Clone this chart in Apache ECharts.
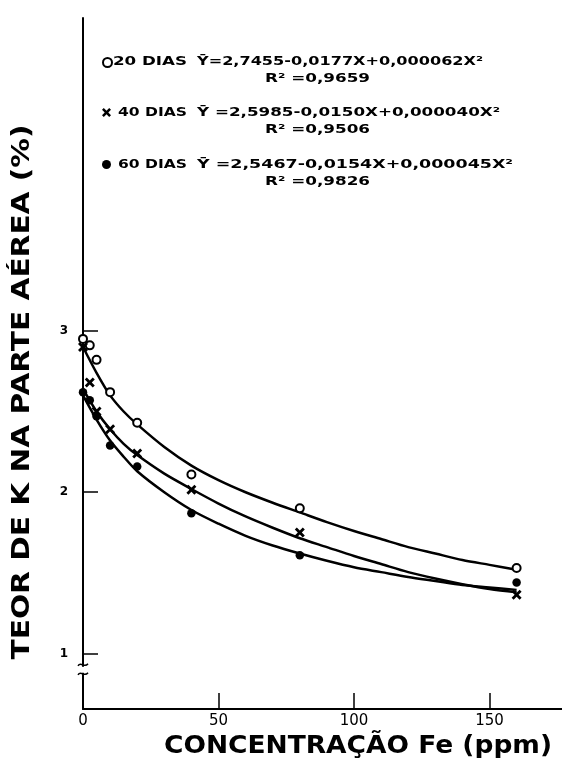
<!DOCTYPE html>
<html>
<head>
<meta charset="utf-8">
<script src="https://cdn.jsdelivr.net/npm/echarts@6/dist/echarts.min.js"></script>
<style>
html, body { margin: 0; padding: 0; background: #fff; }
#chart { width: 562px; height: 761px; }
</style>
</head>
<body>
<div id="chart"></div>
<script>
// measured points (Fe concentration, ppm) and K content (%)
const conc = [0, 2.5, 5, 10, 20, 40, 80, 160];
const k20 = [2.95, 2.91, 2.82, 2.62, 2.43, 2.11, 1.90, 1.53];
const k40 = [2.90, 2.68, 2.50, 2.39, 2.24, 2.015, 1.75, 1.365];
const k60 = [2.62, 2.57, 2.47, 2.29, 2.16, 1.87, 1.61, 1.44];

// fitted curves as drawn in the figure
const curveX = [0, 5, 10, 15, 20, 30, 40, 50, 60, 70, 80, 90, 100, 110, 120, 130, 140, 150, 160];
const fit20 = [2.90, 2.74, 2.60, 2.50, 2.42, 2.28, 2.165, 2.075, 2.00, 1.935, 1.875, 1.815, 1.76, 1.71, 1.66, 1.62, 1.58, 1.55, 1.52];
const fit40 = [2.64, 2.50, 2.39, 2.30, 2.23, 2.115, 2.02, 1.93, 1.85, 1.78, 1.715, 1.66, 1.605, 1.555, 1.505, 1.465, 1.43, 1.40, 1.38];
const fit60 = [2.60, 2.45, 2.32, 2.22, 2.13, 2.00, 1.89, 1.805, 1.73, 1.67, 1.62, 1.575, 1.535, 1.505, 1.475, 1.45, 1.425, 1.41, 1.395];

const seriesNames = ['20 DIAS', '40 DIAS', '60 DIAS'];
const equations = [
	'Ȳ=2,7455-0,0177X+0,000062X²',
	'Ȳ =2,5985-0,0150X+0,000040X²',
	'Ȳ =2,5467-0,0154X+0,000045X²'
];
const r2Labels = ['R² =0,9659', 'R² =0,9506', 'R² =0,9826'];
const xTickValues = [0, 50, 100, 150];
const yTickValues = [1, 2, 3];
const xTitle = 'CONCENTRAÇÃO Fe (ppm)';
const yTitle = 'TEOR DE K NA PARTE AÉREA (%)';

const FONT = '"DejaVu Sans", sans-serif';
const crossPath = 'path://M0,2L2,0L5,3L8,0L10,2L7,5L10,8L8,10L5,7L2,10L0,8L3,5Z';

const chart = echarts.init(document.getElementById('chart'));

const pairs = (xs, ys) => xs.map((x, i) => [x, ys[i]]);

const ctx = document.createElement('canvas').getContext('2d');
function fitText(text, x, y, width, size, opts = {}) {
	const weight = opts.weight || 'bold';
	ctx.font = weight + ' ' + size + 'px ' + FONT;
	const w = ctx.measureText(text).width;
	const el = {
		type: 'text',
		x: x,
		y: y,
		silent: true,
		scaleX: width / w,
		style: {
			text: text,
			fontSize: size,
			fontWeight: weight,
			fontFamily: FONT,
			fill: '#000',
			textAlign: opts.align || 'left',
			textVerticalAlign: 'middle'
		}
	};
	if (opts.rotate) el.rotation = opts.rotate;
	return el;
}

function curveSeries(data) {
	return {
		type: 'line',
		data: data,
		smooth: 0.3,
		showSymbol: false,
		silent: true,
		lineStyle: { color: '#000', width: 2.5 },
		z: 2
	};
}

function legendFor(name, top) {
	return {
		data: [name],
		left: 102,
		top: top,
		padding: 0,
		itemWidth: 9,
		itemHeight: 9,
		selectedMode: false,
		formatter: () => '',
		textStyle: { fontSize: 8 }
	};
}

chart.setOption({
	animation: false,
	backgroundColor: '#fff',
	grid: { left: 83, right: 0, top: 18, bottom: 52 },
	legend: [
		legendFor(seriesNames[0], 57),
		legendFor(seriesNames[1], 108),
		legendFor(seriesNames[2], 160)
	],
	xAxis: {
		type: 'value',
		min: 0,
		max: 176.75,
		splitLine: { show: false },
		axisLine: { lineStyle: { color: '#000', width: 2 } },
		axisTick: { inside: true, length: 16, customValues: xTickValues, lineStyle: { color: '#000', width: 1.5 } },
		axisLabel: { customValues: xTickValues, color: '#000', fontSize: 15, fontFamily: FONT, margin: 5 }
	},
	yAxis: {
		type: 'value',
		min: 0.657,
		max: 4.938,
		splitLine: { show: false },
		axisLine: { lineStyle: { color: '#000', width: 2 } },
		axisTick: { inside: true, length: 15, customValues: yTickValues, lineStyle: { color: '#000', width: 1.5 } },
		axisLabel: { customValues: yTickValues, color: '#000', fontSize: 12, fontWeight: 'bold', fontFamily: FONT, margin: 15 }
	},
	series: [
		curveSeries(pairs(curveX, fit20)),
		curveSeries(pairs(curveX, fit40)),
		curveSeries(pairs(curveX, fit60)),
		{
			name: seriesNames[0],
			type: 'scatter',
			data: pairs(conc, k20),
			symbol: 'emptyCircle',
			symbolSize: 8,
			itemStyle: { color: '#000', borderColor: '#000', borderWidth: 1.6, opacity: 1 },
			z: 3
		},
		{
			name: seriesNames[1],
			type: 'scatter',
			data: pairs(conc, k40),
			symbol: crossPath,
			symbolSize: 10,
			itemStyle: { color: '#000', opacity: 1 },
			z: 3
		},
		{
			name: seriesNames[2],
			type: 'scatter',
			data: pairs(conc, k60),
			symbol: 'circle',
			symbolSize: 8.5,
			itemStyle: { color: '#000', opacity: 1 },
			z: 3
		}
	]
});

// texts of the key, axis titles and the axis break mark
const rows = [62, 113, 165];
const r2Rows = [79, 130, 182];
const nameStarts = [113, 118, 118];
const eqEnds = [483, 500, 513];
const graphics = [];
rows.forEach((y, i) => {
	graphics.push(fitText(seriesNames[i], nameStarts[i], y, 187 - nameStarts[i], 12));
	graphics.push(fitText(equations[i], 197, y, eqEnds[i] - 197, 12));
	graphics.push(fitText(r2Labels[i], 265, r2Rows[i], 105, 12));
});
graphics.push(fitText(xTitle, 164, 746, 388, 25));
graphics.push(fitText(yTitle, 22, 392, 535, 25, { align: 'center', rotate: Math.PI / 2 }));

const ax = chart.convertToPixel({ xAxisIndex: 0 }, 0);
const by = chart.convertToPixel({ yAxisIndex: 0 }, 0.9);
graphics.push({
	type: 'rect', silent: true, z: 10,
	shape: { x: ax - 3, y: by - 3, width: 6, height: 6 },
	style: { fill: '#fff' }
});
[-5, 4].forEach((dy) => {
	graphics.push({
		type: 'bezierCurve', silent: true, z: 11,
		shape: { x1: ax - 5, y1: by + dy + 1, cpx1: ax - 2, cpy1: by + dy - 4, cpx2: ax + 1, cpy2: by + dy + 4, x2: ax + 5, y2: by + dy - 1 },
		style: { stroke: '#000', lineWidth: 1.5, fill: null }
	});
});

chart.setOption({ graphic: graphics });
</script>
</body>
</html>
